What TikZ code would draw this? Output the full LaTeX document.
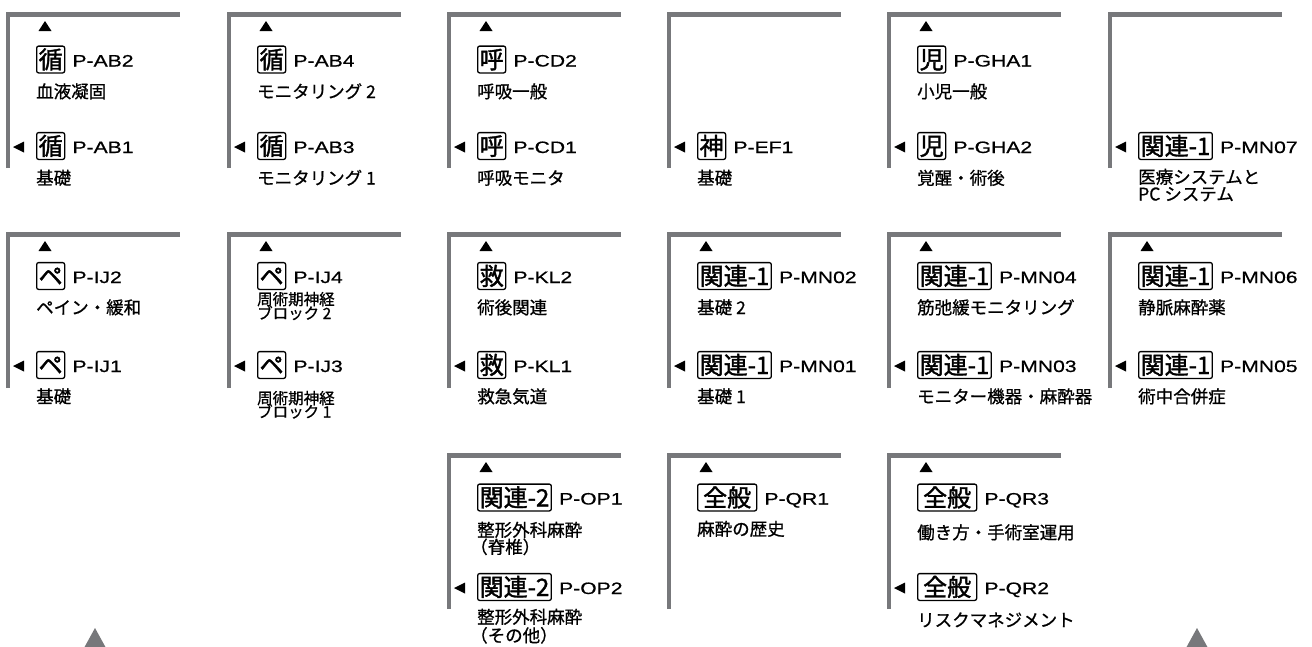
\documentclass[tikz,border=0pt]{standalone}
\usepackage{fontspec}
\setmainfont{Noto Sans CJK JP}
\newfontfamily\jpfont[FakeBold=0.8]{Noto Sans CJK JP}
\newfontfamily\badgefont[FakeBold=1.6]{Noto Sans CJK JP}
\newfontfamily\codefont[FakeStretch=1.28,FakeBold=0.7]{Liberation Sans}
\usetikzlibrary{calc}
\definecolor{barcol}{HTML}{77787B}
\tikzset{
  barline/.style={draw=barcol, line width=4.4pt, line join=miter},
  badge/.style={draw, rounded corners=2pt, line width=1.3pt, font=\badgefont\fontsize{24}{24}\selectfont,
    inner xsep=2pt, inner ysep=1.4pt, text height=21pt, text depth=3pt, anchor=west},
  codetext/.style={font=\codefont\fontsize{16.5}{16.5}\selectfont, inner sep=0pt, anchor=base west},
  desc/.style={font=\jpfont\fontsize{17.5}{17.5}\selectfont, inner sep=0pt, anchor=base west},
  descsmall/.style={desc, font=\jpfont\fontsize{15.5}{15.5}\selectfont},
}
\newcommand\dyoff{38.5}
\newcommand\dstyle{desc}
% #1 badge opts, #2 name, #3 bar x, #4 badge centre y, #5 badge text, #6 code, #7 first desc line
\newcommand\pent[7][]{%
  \node[badge,#1] (#2) at (#3+28,#4) {#5};
  \node[codetext] (#2c) at ($(#2.east)+(7,7)$) {#6};
  \node[\dstyle] (#2d) at (#3+28,#4+\dyoff) {#7};
}
\newcommand\pbar[3]{\draw[barline] (#1,#3) -- (#1,#2) -- (#1+172,#2);}
\newcommand\uptri[2]{\fill (#1+37-6.5,#2+16.5) -- (#1+37+6.5,#2+16.5) -- (#1+37,#2+6.5) -- cycle;}
\newcommand\lefttri[2]{\fill (#1+16,#2-4.5) -- (#1+16,#2+6.5) -- (#1+5,#2+1) -- cycle;}
\begin{document}
\begin{tikzpicture}[x=1pt,y=-1pt]
\useasboundingbox (0,0) rectangle (1312,646);
% ---------- row 1 ----------
\pbar{8}{14.5}{168}\pbar{229}{14.5}{168}\pbar{449}{14.5}{168}
\pbar{669}{14.5}{168}\pbar{889}{14.5}{168}\pbar{1110}{14.5}{168}
\uptri{8}{14.5}\uptri{229}{14.5}\uptri{449}{14.5}\uptri{889}{14.5}
\lefttri{8}{146}\lefttri{229}{146}\lefttri{449}{146}\lefttri{669}{146}\lefttri{889}{146}\lefttri{1110}{146}
\pent{ab2}{8}{59.5}{循}{P-AB2}{血液凝固}
\pent{ab1}{8}{146}{循}{P-AB1}{基礎}
\pent{ab4}{229}{59.5}{循}{P-AB4}{モニタリング 2}
\pent{ab3}{229}{146}{循}{P-AB3}{モニタリング 1}
\pent{cd2}{449}{59.5}{呼}{P-CD2}{呼吸一般}
\pent{cd1}{449}{146}{呼}{P-CD1}{呼吸モニタ}
\pent{ef1}{669}{146}{神}{P-EF1}{基礎}
\pent{gh1}{889}{59.5}{児}{P-GHA1}{小児一般}
\pent{gh2}{889}{146}{児}{P-GHA2}{覚醒・術後}
\renewcommand\dyoff{37.5}
\pent{mn7}{1110}{146}{関連-1}{P-MN07}{医療システムと}
\node[desc] (mn7e) at (1138,200.5) {PC システム};
% ---------- row 2 ----------
\renewcommand\dyoff{38}
\pbar{8}{234.5}{388}\pbar{229}{234.5}{388}\pbar{449}{234.5}{388}
\pbar{669}{234.5}{388}\pbar{889}{234.5}{388}\pbar{1110}{234.5}{388}
\uptri{8}{234.5}\uptri{229}{234.5}\uptri{449}{234.5}\uptri{669}{234.5}\uptri{889}{234.5}\uptri{1110}{234.5}
\lefttri{8}{365}\lefttri{229}{365}\lefttri{449}{365}\lefttri{669}{365}\lefttri{889}{365}\lefttri{1110}{365}
\pent{ij2}{8}{276}{ペ}{P-IJ2}{ペイン・緩和}
\pent{ij1}{8}{365}{ペ}{P-IJ1}{基礎}
\renewcommand\dstyle{descsmall}
\renewcommand\dyoff{29}
\pent{ij4}{229}{276}{ペ}{P-IJ4}{周術期神経}
\node[descsmall] (ij4e) at (257,319) {ブロック 2};
\renewcommand\dyoff{39}
\pent{ij3}{229}{365}{ペ}{P-IJ3}{周術期神経}
\node[descsmall] (ij3e) at (257,417.5) {ブロック 1};
\renewcommand\dstyle{desc}
\renewcommand\dyoff{38}
\pent{kl2}{449}{276}{救}{P-KL2}{術後関連}
\pent{kl1}{449}{365}{救}{P-KL1}{救急気道}
\pent{mn2}{669}{276}{関連-1}{P-MN02}{基礎 2}
\pent{mn1}{669}{365}{関連-1}{P-MN01}{基礎 1}
\pent{mn4}{889}{276}{関連-1}{P-MN04}{筋弛緩モニタリング}
\pent{mn3}{889}{365}{関連-1}{P-MN03}{モニター機器・麻酔器}
\pent{mn6}{1110}{276}{関連-1}{P-MN06}{静脈麻酔薬}
\pent{mn5}{1110}{365}{関連-1}{P-MN05}{術中合併症}
% ---------- row 3 ----------
\pbar{449}{455.5}{609}\pbar{669}{455.5}{609}\pbar{889}{455.5}{609}
\uptri{449}{455.5}\uptri{669}{455.5}\uptri{889}{455.5}
\lefttri{449}{587}\lefttri{889}{587}
\renewcommand\dyoff{39}
\pent{op1}{449}{497.5}{関連-2}{P-OP1}{整形外科麻酔}
\node[desc] (op1e) at (470,553.5) {（脊椎）};
\renewcommand\dyoff{36.5}
\pent{op2}{449}{587}{関連-2}{P-OP2}{整形外科麻酔}
\node[desc] (op2e) at (470,642) {（その他）};
\renewcommand\dyoff{38}
\pent[inner xsep=5.5pt]{qr1}{669}{497.5}{全般}{P-QR1}{麻酔の歴史}
\renewcommand\dyoff{41.5}
\pent[inner xsep=5.5pt]{qr3}{889}{497.5}{全般}{P-QR3}{働き方・手術室運用}
\renewcommand\dyoff{39.5}
\pent[inner xsep=5.5pt]{qr2}{889}{587}{全般}{P-QR2}{リスクマネジメント}
% ---------- bottom markers ----------
\fill[barcol] (95,628) -- (106,648) -- (84,648) -- cycle;
\fill[barcol] (1197,628) -- (1208,648) -- (1186,648) -- cycle;
\end{tikzpicture}
\end{document}
